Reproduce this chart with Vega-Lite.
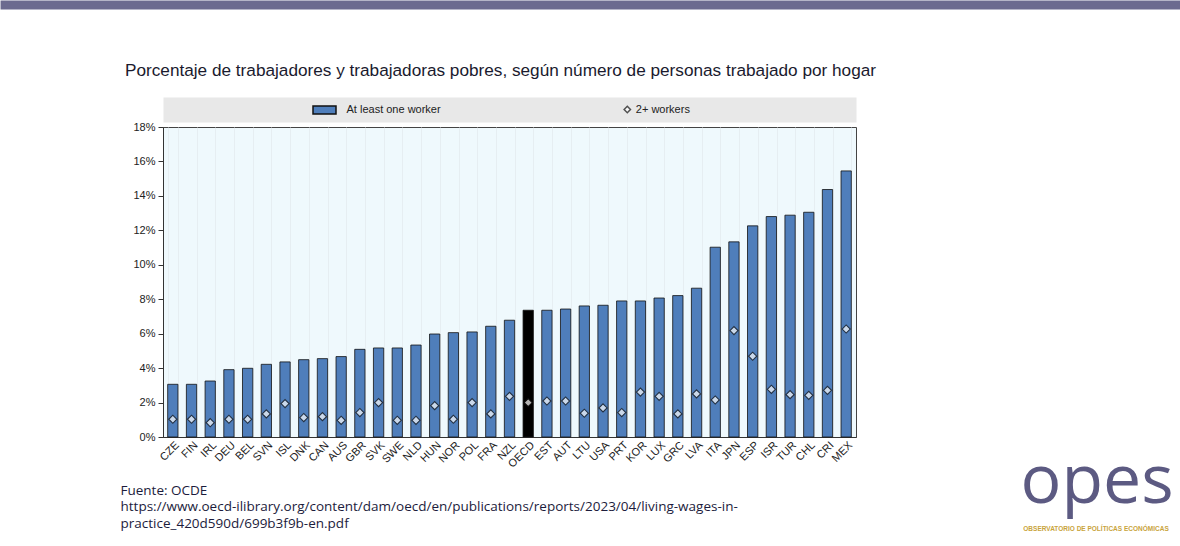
{
  "$schema": "https://vega.github.io/schema/vega-lite/v6.json",
  "width": 693,
  "height": 310,
  "autosize": {"type": "none"},
  "padding": {"left": 163, "top": 127, "right": 324, "bottom": 109},
  "background": "#ffffff",
  "title": {
    "text": "Porcentaje de trabajadores y trabajadoras pobres, según número de personas trabajado por hogar",
    "anchor": "start",
    "frame": "group",
    "baseline": "bottom",
    "dx": -38,
    "dy": 101,
    "fontSize": 17.2,
    "font": "Liberation Sans",
    "fontWeight": "normal",
    "color": "#1a1a2e"
  },
  "data": {
    "values": [
      {"country": "CZE", "one": 3.06, "two": 1.03},
      {"country": "FIN", "one": 3.06, "two": 1.03},
      {"country": "IRL", "one": 3.25, "two": 0.83},
      {"country": "DEU", "one": 3.91, "two": 1.03},
      {"country": "BEL", "one": 3.99, "two": 1.03},
      {"country": "SVN", "one": 4.22, "two": 1.34},
      {"country": "ISL", "one": 4.36, "two": 1.94},
      {"country": "DNK", "one": 4.49, "two": 1.13},
      {"country": "CAN", "one": 4.55, "two": 1.18},
      {"country": "AUS", "one": 4.67, "two": 0.97},
      {"country": "GBR", "one": 5.09, "two": 1.42},
      {"country": "SVK", "one": 5.17, "two": 2.0},
      {"country": "SWE", "one": 5.17, "two": 0.97},
      {"country": "NLD", "one": 5.34, "two": 0.97},
      {"country": "HUN", "one": 5.98, "two": 1.82},
      {"country": "NOR", "one": 6.06, "two": 1.03},
      {"country": "POL", "one": 6.1, "two": 2.0},
      {"country": "FRA", "one": 6.43, "two": 1.34},
      {"country": "NZL", "one": 6.78, "two": 2.36},
      {"country": "OECD", "one": 7.36, "two": 2.0},
      {"country": "EST", "one": 7.36, "two": 2.09},
      {"country": "AUT", "one": 7.43, "two": 2.09},
      {"country": "LTU", "one": 7.61, "two": 1.38},
      {"country": "USA", "one": 7.65, "two": 1.69},
      {"country": "PRT", "one": 7.9, "two": 1.42},
      {"country": "KOR", "one": 7.9, "two": 2.61},
      {"country": "LUX", "one": 8.07, "two": 2.36},
      {"country": "GRC", "one": 8.21, "two": 1.34},
      {"country": "LVA", "one": 8.64, "two": 2.5},
      {"country": "ITA", "one": 11.02, "two": 2.15},
      {"country": "JPN", "one": 11.33, "two": 6.18},
      {"country": "ESP", "one": 12.26, "two": 4.69},
      {"country": "ISR", "one": 12.8, "two": 2.77},
      {"country": "TUR", "one": 12.88, "two": 2.46},
      {"country": "CHL", "one": 13.05, "two": 2.42},
      {"country": "CRI", "one": 14.37, "two": 2.71},
      {"country": "MEX", "one": 15.45, "two": 6.27}
    ]
  },
  "resolve": {"axis": {"x": "independent", "y": "independent"}},
  "layer": [
    {
      "mark": {"type": "bar", "stroke": "#111111", "strokeWidth": 0.8},
      "encoding": {
        "x": {
          "field": "country",
          "type": "nominal",
          "sort": null,
          "scale": {"paddingInner": 0.45, "paddingOuter": 0.25},
          "axis": {
            "orient": "bottom",
            "labelAngle": -45,
            "labelFontSize": 11,
            "labelFont": "Liberation Sans",
            "labelColor": "#222222",
            "labelPadding": 2,
            "ticks": false,
            "domainColor": "#333333",
            "grid": true,
            "gridColor": "#e3ebef",
            "gridWidth": 0.8,
            "tickBand": "extent",
            "title": ["Fuente: OCDE", "https://www.oecd-ilibrary.org/content/dam/oecd/en/publications/reports/2023/04/living-wages-in-", "practice_420d590d/699b3f9b-en.pdf"],
            "titleFont": "Open Sans",
            "titleFontSize": 13.5,
            "titleFontWeight": "normal",
            "titleColor": "#1c1c3c",
            "titleAnchor": "start",
            "titleAlign": "left",
            "titleBaseline": "alphabetic",
            "titleLineHeight": 16.5,
            "titleX": -43,
            "titleY": 57
          }
        },
        "y": {
          "field": "one",
          "type": "quantitative",
          "scale": {"domain": [0, 18], "nice": false},
          "axis": {
            "orient": "left",
            "values": [0, 2, 4, 6, 8, 10, 12, 14, 16, 18],
            "labelExpr": "datum.value + '%'",
            "labelFontSize": 11,
            "labelFont": "Liberation Sans",
            "labelColor": "#222222",
            "tickSize": 5,
            "tickColor": "#333333",
            "domainColor": "#333333",
            "labelPadding": 3,
            "grid": false,
            "title": null
          }
        },
        "fill": {
          "condition": {"test": "datum.country === 'OECD'", "value": "#000000"},
          "datum": "At least one worker",
          "type": "nominal",
          "scale": {"range": ["#4F7EBB"]},
          "legend": {
            "orient": "none",
            "legendX": 155.5,
            "legendY": -23,
            "title": null,
            "symbolType": "M-2.3,-0.8H2.3V0.8H-2.3Z",
            "symbolSize": 100,
            "labelOffset": 16,
            "labelFontSize": 11,
            "labelFont": "Liberation Sans",
            "labelColor": "#222222"
          }
        }
      }
    },
    {
      "mark": {"type": "point", "shape": "diamond", "filled": true, "fill": "#ffffff", "stroke": "#111111", "strokeWidth": 1.1, "size": 66},
      "encoding": {
        "x": {
          "field": "country",
          "type": "nominal",
          "sort": null,
          "axis": {
            "orient": "top",
            "offset": 17.5,
            "labels": false,
            "ticks": false,
            "grid": false,
            "domainColor": "#e8e8e8",
            "domainWidth": 25,
            "title": "OBSERVATORIO DE POLÍTICAS ECONÓMICAS",
            "titleFont": "Liberation Sans",
            "titleFontSize": 6.5,
            "titleFontWeight": "bold",
            "titleColor": "#c9a43c",
            "titleAlign": "center",
            "titleBaseline": "alphabetic",
            "titleX": 932.5,
            "titleY": 420.5
          }
        },
        "y": {
          "field": "two",
          "type": "quantitative",
          "scale": {"domain": [0, 18], "nice": false},
          "axis": {
            "orient": "right",
            "labels": false,
            "ticks": false,
            "domain": false,
            "grid": false,
            "title": "opes",
            "titleFont": "Open Sans",
            "titleFontSize": 68,
            "titleFontWeight": "normal",
            "titleColor": "#5c5a82",
            "titleAngle": 0,
            "titleAlign": "left",
            "titleBaseline": "alphabetic",
            "titleX": 164,
            "titleY": 375
          }
        },
        "shape": {
          "datum": "2+ workers",
          "type": "nominal",
          "scale": {"range": ["diamond"]},
          "legend": {
            "orient": "none",
            "legendX": 458.8,
            "legendY": -23,
            "title": null,
            "symbolSize": 40,
            "labelOffset": 3,
            "labelFontSize": 11,
            "labelFont": "Liberation Sans",
            "labelColor": "#222222"
          }
        }
      }
    },
    {
      "mark": {"type": "square", "opacity": 0},
      "encoding": {
        "x": {"field": "country", "type": "nominal", "sort": null, "axis": null},
        "y": {"field": "two", "type": "quantitative", "scale": {"domain": [0, 18], "nice": false}, "axis": null},
        "color": {
          "datum": "band",
          "type": "nominal",
          "scale": {"range": ["#6b6a8f"]},
          "legend": {
            "orient": "none",
            "legendX": 422.5,
            "legendY": -127,
            "title": null,
            "symbolType": "M-131.1,-1H131.1V1H-131.1Z",
            "symbolSize": 81,
            "symbolOpacity": 1,
            "symbolStrokeWidth": 0,
            "labelExpr": "''"
          }
        }
      }
    }
  ],
  "config": {
    "font": "Liberation Sans",
    "view": {"fill": "#EFF9FD", "stroke": "#444444", "strokeWidth": 1},
    "legend": {"padding": 0}
  }
}
